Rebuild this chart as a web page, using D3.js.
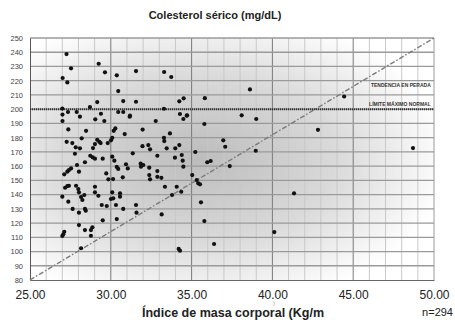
<!DOCTYPE html>
<html>
<head>
<meta charset="utf-8">
<script src="https://cdn.jsdelivr.net/npm/d3@7"></script>
<style>
  body { margin: 0; background: #fff; }
  svg { display: block; font-family: "Liberation Sans", Arial, sans-serif; }
</style>
</head>
<body>
<script>
// datos: IMC (kg/m2) y colesterol serico (mg/dL)
const imc = [
  27.26, 27.54, 27.02, 27.31, 29.25, 29.64, 30.37, 31.56, 33.30, 33.74,
  30.46, 38.61, 34.51, 35.82, 44.44, 29.16, 30.77, 31.56, 28.71, 27.00,
  27.89, 28.09, 29.39, 30.46, 30.77, 31.19, 27.01, 33.29, 34.28, 34.72,
  34.24, 27.35, 38.10, 39.00, 42.82, 37.08, 38.97, 37.36, 48.70, 41.34,
  40.12, 27.01, 29.04, 29.60, 31.17, 27.37, 28.47, 30.28, 30.18, 30.86,
  31.97, 27.27, 27.62, 28.20, 27.83, 28.09, 29.16, 29.29, 29.37, 28.90,
  29.02, 29.81, 30.09, 30.01, 31.96, 27.78, 28.40, 28.73, 28.88, 29.02,
  29.50, 30.09, 30.22, 31.36, 31.85, 32.01, 27.91, 27.54, 27.41, 27.31,
  27.12, 28.03, 30.37, 30.46, 30.94, 31.05, 29.72, 29.85, 30.14, 30.74,
  27.31, 27.17, 27.41, 27.85, 27.99, 28.03, 29.02, 29.02, 29.23, 30.09,
  30.57, 30.57, 27.00, 28.36, 28.16, 32.78, 34.49, 34.70, 35.79, 33.66,
  33.29, 33.31, 32.32, 32.43, 33.46, 33.99, 34.24, 36.96, 35.23, 32.88,
  33.97, 34.39, 34.45, 34.49, 31.87, 32.38, 32.88, 32.88, 33.13, 32.38,
  32.43, 35.97, 36.18, 35.04, 35.41, 35.52, 35.32, 33.35, 34.08, 34.36,
  33.79, 27.37, 28.24, 30.01, 30.15, 29.44, 29.75, 30.32, 31.56, 27.64,
  28.03, 28.40, 28.45, 30.77, 31.59, 30.37, 29.50, 28.03, 28.86, 28.77,
  28.40, 27.12, 27.06, 27.00, 28.77, 28.16, 35.58, 33.15, 35.79, 36.39,
  34.20, 34.28
];
const colesterol = [
  238.7, 228.7, 221.9, 218.8, 231.9, 225.9, 223.8, 226.8, 226.1, 222.6,
  212.7, 213.9, 207.6, 207.7, 208.9, 205.0, 205.7, 205.2, 201.5, 200.4,
  198.0, 194.7, 196.8, 198.0, 198.0, 195.4, 196.2, 200.3, 196.6, 195.7,
  205.5, 198.0, 195.7, 193.1, 185.5, 173.6, 170.8, 160.0, 172.7, 140.9,
  113.7, 191.7, 192.9, 191.7, 194.7, 185.8, 184.8, 186.5, 184.8, 182.5,
  185.7, 177.1, 176.2, 179.5, 173.2, 172.5, 178.5, 177.1, 176.2, 172.7,
  175.5, 176.2, 179.9, 178.1, 174.0, 168.7, 162.7, 167.3, 166.2, 165.2,
  165.2, 166.6, 163.8, 169.0, 161.7, 160.8, 160.8, 158.4, 157.2, 156.1,
  154.2, 156.1, 159.4, 158.0, 161.3, 158.4, 154.9, 150.7, 150.9, 152.1,
  146.0, 144.8, 146.2, 146.2, 143.9, 141.6, 145.5, 141.6, 139.2, 141.6,
  140.9, 138.5, 138.5, 139.7, 138.3, 191.7, 193.1, 195.4, 189.6, 183.0,
  179.9, 177.6, 174.8, 171.8, 172.5, 172.5, 174.8, 178.1, 169.9, 167.3,
  165.9, 167.8, 163.8, 159.6, 159.6, 158.9, 156.5, 152.5, 151.8, 153.7,
  150.7, 162.7, 163.6, 153.7, 147.9, 147.2, 150.2, 145.5, 145.5, 142.0,
  139.7, 135.0, 136.2, 136.9, 137.4, 132.7, 132.0, 132.7, 132.7, 129.9,
  127.3, 129.9, 128.7, 129.9, 127.3, 122.8, 121.9, 118.6, 117.0, 115.1,
  115.1, 113.9, 112.1, 110.9, 111.1, 102.3, 134.6, 126.1, 121.4, 105.3,
  101.8, 100.6
];
const yTicks = [80, 90, 100, 110, 120, 130, 140, 150, 160, 170, 180, 190, 200, 210, 220, 230, 240, 250];
const xTicks = [25, 30, 35, 40, 45, 50];
const limiteNormal = 200;
const tendencia = [[25, 80], [50, 250]];

let width = 455;
let height = 324;
let marginTop = 38;
let marginRight = 21;
let marginBottom = 44;
let marginLeft = 30;

let chartWidth = width - marginLeft - marginRight;
let chartHeight = height - marginTop - marginBottom;

const svg = d3.select("body")
    .append("svg")
    .attr("width", width)
    .attr("height", height);

// fondo con degradado
const defs = svg.append("defs");
const grad = defs.append("radialGradient")
    .attr("id", "fondo")
    .attr("cx", "42%").attr("cy", "50%").attr("r", "62%");
grad.append("stop").attr("offset", "0%").attr("stop-color", "#bcbcbc");
grad.append("stop").attr("offset", "55%").attr("stop-color", "#dadada");
grad.append("stop").attr("offset", "100%").attr("stop-color", "#ffffff");

const xScale = d3.scaleLinear().domain([25, 50]).range([0, chartWidth]);
const yScale = d3.scaleLinear().domain([80, 250]).range([chartHeight, 0]);

const g = svg.append("g")
    .attr("transform", "translate(" + marginLeft + "," + marginTop + ")");

g.append("rect")
    .attr("width", chartWidth)
    .attr("height", chartHeight)
    .attr("fill", "url(#fondo)");

// lineas verticales (cada unidad)
g.append("g")
    .selectAll("line")
    .data(d3.range(26, 50))
    .join("line")
    .attr("x1", d => xScale(d)).attr("x2", d => xScale(d))
    .attr("y1", 0).attr("y2", chartHeight)
    .attr("stroke", d => d % 5 === 0 ? "#7a7a7a" : "#c9c9c9")
    .attr("stroke-width", 1);

// lineas horizontales
g.append("g")
    .selectAll("line")
    .data(yTicks.slice(1))
    .join("line")
    .attr("x1", 0).attr("x2", chartWidth)
    .attr("y1", d => yScale(d)).attr("y2", d => yScale(d))
    .attr("stroke", "#9a9a9a")
    .attr("stroke-width", 1.3);

// borde
g.append("line")
    .attr("x1", chartWidth).attr("x2", chartWidth)
    .attr("y1", 0).attr("y2", chartHeight)
    .attr("stroke", "#9a9a9a");

// eje y
const yAxis = g.append("g")
    .call(d3.axisLeft(yScale).tickValues(yTicks).tickSize(0).tickPadding(7));
yAxis.select(".domain").attr("stroke", "#555");
yAxis.selectAll("text")
    .attr("font-size", "7.5px")
    .attr("fill", "#444");

// eje x
const xAxis = g.append("g")
    .attr("transform", "translate(0," + chartHeight + ")")
    .call(d3.axisBottom(xScale).tickValues(xTicks).tickSize(0).tickPadding(10).tickFormat(d3.format(".2f")));
xAxis.select(".domain").attr("stroke", "#666");
xAxis.selectAll("text")
    .attr("font-size", "12px")
    .attr("fill", "#222");

// linea de tendencia
g.append("path")
    .datum(tendencia)
    .attr("d", d3.line().x(d => xScale(d[0])).y(d => yScale(d[1])))
    .attr("fill", "none")
    .attr("stroke", "#7a7a7a")
    .attr("stroke-width", 1.4)
    .attr("stroke-dasharray", "5,2,1.5,2");

// limite maximo normal
g.append("line")
    .attr("x1", 0).attr("x2", chartWidth)
    .attr("y1", yScale(limiteNormal)).attr("y2", yScale(limiteNormal))
    .attr("stroke", "#333")
    .attr("stroke-width", 2)
    .attr("stroke-dasharray", "1.2,0.8");

// puntos
g.append("g")
    .selectAll("circle")
    .data(imc.map((d, i) => [d, colesterol[i]]))
    .join("circle")
    .attr("cx", d => xScale(d[0]))
    .attr("cy", d => yScale(d[1]))
    .attr("r", 2.1)
    .attr("fill", "#111");

// anotaciones
g.append("text")
    .attr("x", xScale(49.8)).attr("y", yScale(215.5))
    .attr("text-anchor", "end")
    .attr("font-size", "5px")
    .attr("font-weight", "bold")
    .attr("fill", "#333")
    .text("TENDENCIA EN PERADA");
g.append("text")
    .attr("x", xScale(49.8)).attr("y", yScale(202.3))
    .attr("text-anchor", "end")
    .attr("font-size", "5px")
    .attr("font-weight", "bold")
    .attr("fill", "#333")
    .text("LÍMITE MÁXIMO NORMAL");

// titulos
svg.append("text")
    .attr("x", 215).attr("y", 19)
    .attr("text-anchor", "middle")
    .attr("font-size", "11px")
    .attr("font-weight", "bold")
    .attr("fill", "#222")
    .text("Colesterol sérico (mg/dL)");

svg.append("text")
    .attr("x", 142).attr("y", 317)
    .attr("font-size", "12.5px")
    .attr("font-weight", "bold")
    .attr("fill", "#222")
    .text("Índice de masa corporal (Kg/m");

svg.append("text")
    .attr("x", 274).attr("y", 305)
    .attr("text-anchor", "middle")
    .attr("font-size", "6px")
    .attr("fill", "#999")
    .text(")");

svg.append("text")
    .attr("x", 453).attr("y", 316)
    .attr("text-anchor", "end")
    .attr("font-size", "11px")
    .attr("fill", "#222")
    .text("n=294");
</script>
</body>
</html>
